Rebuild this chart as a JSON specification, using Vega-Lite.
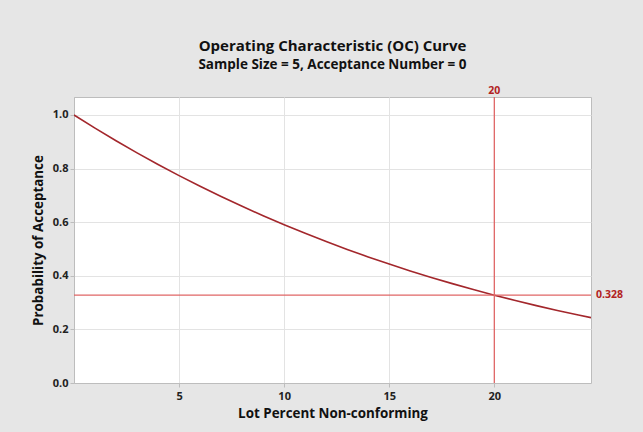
{
  "$schema": "https://vega.github.io/schema/vega-lite/v6.json",
  "width": 517,
  "height": 286,
  "autosize": {"type": "none"},
  "padding": {"left": 74, "top": 97, "right": 52, "bottom": 49},
  "background": "#e6e6e6",
  "title": {
    "text": "Operating Characteristic (OC) Curve",
    "subtitle": "Sample Size = 5, Acceptance Number = 0",
    "anchor": "middle",
    "font": "Open Sans",
    "fontSize": 15,
    "fontWeight": "bold",
    "color": "#111",
    "subtitleFont": "Open Sans",
    "subtitleFontSize": 13.5,
    "subtitleFontWeight": "bold",
    "subtitleColor": "#111",
    "subtitlePadding": 4,
    "offset": 15
  },
  "config": {
    "view": {"fill": "white", "stroke": "#bdbdbd", "strokeWidth": 1},
    "axis": {
      "labelFont": "Open Sans",
      "labelFontWeight": "bold",
      "labelFontSize": 11,
      "labelColor": "#222",
      "titleFont": "Open Sans",
      "titleFontWeight": "bold",
      "titleFontSize": 13.4,
      "titleColor": "#111",
      "gridColor": "#e3e3e3",
      "domainColor": "#bdbdbd",
      "tickColor": "#bdbdbd",
      "tickSize": 4
    }
  },
  "layer": [
    {
      "data": {"values": [
        {"p": 0, "pa": 1.0}, {"p": 1, "pa": 0.951}, {"p": 2, "pa": 0.9039}, {"p": 3, "pa": 0.8587},
        {"p": 4, "pa": 0.8154}, {"p": 5, "pa": 0.7738}, {"p": 6, "pa": 0.7339}, {"p": 7, "pa": 0.6957},
        {"p": 8, "pa": 0.6591}, {"p": 9, "pa": 0.624}, {"p": 10, "pa": 0.5905}, {"p": 11, "pa": 0.5584},
        {"p": 12, "pa": 0.5277}, {"p": 13, "pa": 0.4984}, {"p": 14, "pa": 0.4704}, {"p": 15, "pa": 0.4437},
        {"p": 16, "pa": 0.4182}, {"p": 17, "pa": 0.3939}, {"p": 18, "pa": 0.3707}, {"p": 19, "pa": 0.3487},
        {"p": 20, "pa": 0.3277}, {"p": 21, "pa": 0.3077}, {"p": 22, "pa": 0.2887}, {"p": 23, "pa": 0.2707},
        {"p": 24, "pa": 0.2536}, {"p": 24.6, "pa": 0.2437}
      ]},
      "mark": {"type": "line", "color": "#a3272c", "strokeWidth": 1.6, "clip": true},
      "encoding": {
        "x": {
          "field": "p", "type": "quantitative",
          "scale": {"domain": [0, 24.6], "nice": false, "zero": false},
          "axis": {"values": [5, 10, 15, 20], "title": "Lot Percent Non-conforming", "titlePadding": 5, "labelPadding": 3}
        },
        "y": {
          "field": "pa", "type": "quantitative",
          "scale": {"domain": [0, 1.067], "nice": false},
          "axis": {"values": [0, 0.2, 0.4, 0.6, 0.8, 1.0], "format": ".1f", "title": "Probability of Acceptance", "titlePadding": 7, "labelPadding": 2}
        }
      }
    },
    {
      "data": {"values": [{"ref": 20, "label": "20"}]},
      "mark": {"type": "rule", "color": "#e06666", "strokeWidth": 1.3},
      "encoding": {"x": {"field": "ref", "type": "quantitative"}}
    },
    {
      "data": {"values": [{"ref": 0.328, "label": "0.328"}]},
      "mark": {"type": "rule", "color": "#e06666", "strokeWidth": 1.3},
      "encoding": {"y": {"field": "ref", "type": "quantitative"}}
    },
    {
      "data": {"values": [{"ref": 20, "top": 1.067, "label": "20"}]},
      "mark": {"type": "text", "color": "#b22222", "font": "Open Sans", "fontWeight": "bold", "fontSize": 10.5, "baseline": "bottom", "dy": -1, "clip": false},
      "encoding": {
        "x": {"field": "ref", "type": "quantitative"},
        "y": {"field": "top", "type": "quantitative"},
        "text": {"field": "label"}
      }
    },
    {
      "data": {"values": [{"right": 24.6, "ref": 0.328, "label": "0.328"}]},
      "mark": {"type": "text", "color": "#b22222", "font": "Open Sans", "fontWeight": "bold", "fontSize": 10.5, "align": "left", "dx": 5, "clip": false},
      "encoding": {
        "x": {"field": "right", "type": "quantitative"},
        "y": {"field": "ref", "type": "quantitative"},
        "text": {"field": "label"}
      }
    }
  ]
}
